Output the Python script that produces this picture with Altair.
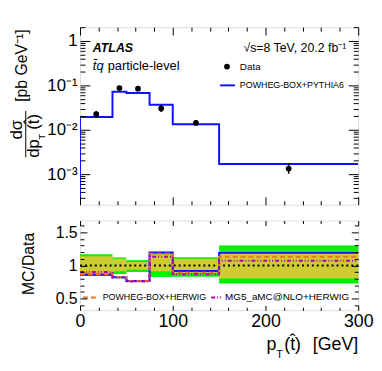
import altair as alt
import pandas as pd

FONT = "Liberation Sans"

# ---------------- data ----------------
bin_edges = [0, 35, 50, 75, 100, 150, 300]
bin_centres = [17.5, 42.5, 62.5, 87.5, 125, 225]
data_val = [0.0224, 0.087, 0.0845, 0.0303, 0.0143, 0.00134]
data_lo = [0.0185, 0.078, 0.078, 0.0252, 0.0126, 0.00102]
data_hi = [0.0265, 0.097, 0.092, 0.0360, 0.0163, 0.00178]
mc_pythia6 = [0.0195, 0.072, 0.0676, 0.0365, 0.0134, 0.0017]

ratio_pythia6 = [0.86, 0.82, 0.765, 1.195, 0.915, 1.19]
ratio_herwig = [0.865, 0.82, 0.765, 1.175, 0.89, 1.13]
ratio_mg5 = [0.90, 0.815, 0.755, 1.13, 0.865, 1.07]
total_lo = [0.84, 0.87, 0.90, 0.825, 0.83, 0.725]
total_hi = [1.17, 1.12, 1.08, 1.20, 1.125, 1.30]
stat_lo = [0.88, 0.91, 0.935, 0.91, 0.885, 0.80]
stat_hi = [1.14, 1.10, 1.05, 1.17, 1.10, 1.20]

x_major = [0, 100, 200, 300]
x_minor = [v for v in range(20, 300, 20) if v % 100]
top_y_dom = [2.05e-4, 2.05]
top_y_major = [1e-3, 1e-2, 1e-1, 1]
top_y_minor = [k * 10.0 ** e for e in range(-4, 1) for k in range(2, 10)
               if top_y_dom[0] <= k * 10.0 ** e <= top_y_dom[1]]
bot_y_dom = [0.32, 1.68]
bot_y_major = [0.5, 1, 1.5]
bot_y_minor = [round(0.4 + 0.1 * i, 2) for i in range(13)]
bot_y_minor = [v for v in bot_y_minor if v not in bot_y_major]

BLUE = "#1010ff"
ORANGE = "#e07a2a"
MAGENTA = "#b400b4"
GREEN = "#00f000"
YELLOW = "#cdcd33"


def step_df(vals, start=None):
    xs = list(bin_edges)
    ys = list(vals) + [vals[-1]]
    if start is not None:
        xs = [0] + xs
        ys = [start] + ys
    return pd.DataFrame({"x": xs, "y": ys, "i": list(range(len(xs)))})


one = pd.DataFrame({"a": [0]})
xs = alt.Scale(domain=[0, 300], nice=False, zero=False)
ys_top = alt.Scale(type="log", domain=top_y_dom, nice=False)
ys_bot = alt.Scale(domain=bot_y_dom, nice=False, zero=False)


def ax(orient, values, size, labels=False, **kw):
    return alt.Axis(orient=orient, values=values, tickSize=size, offset=-size,
                    domain=False, grid=False, labels=labels, ticks=True, minExtent=0,
                    tickColor="black", tickWidth=1, title=None, zindex=1, **kw)


def axis_layer(df, ysc, ch, orient, values, size):
    xa = ax(orient, values, size) if ch == "x" else None
    ya = ax(orient, values, size) if ch == "y" else None
    return alt.Chart(df).mark_point(opacity=0, size=0).encode(
        x=alt.X("x:Q", scale=xs, axis=xa),
        y=alt.Y("y:Q", scale=ysc, axis=ya))


def txt(text, x, y, size, align="left", baseline="middle", angle=0, **kw):
    return alt.Chart(one).mark_text(align=align, baseline=baseline, fontSize=size,
                                    angle=angle, font=FONT, color="black", **kw).encode(
        x=alt.value(x), y=alt.value(y), text=alt.value(text))


# ---------------- top panel ----------------
mc_df = step_df(mc_pythia6, start=top_y_dom[0])
pts_df = pd.DataFrame({"x": bin_centres, "y": data_val, "lo": data_lo, "hi": data_hi})

mc_line = alt.Chart(mc_df).mark_line(interpolate="step-after", color=BLUE, strokeWidth=2,
                                     clip=True).encode(
    x=alt.X("x:Q", scale=xs, axis=ax("bottom", x_major, 8)),
    y=alt.Y("y:Q", scale=ys_top, axis=ax(
        "left", top_y_major, 10, labels=True, labelFont=FONT, labelFontSize=17,
        labelPadding=3, labelColor="black",
        labelExpr="datum.value >= 0.5 ? '1' : datum.value >= 0.05 ? '10⁻¹' : "
                  "datum.value >= 0.005 ? '10⁻²' : '10⁻³'")),
    order="i:Q")

err = alt.Chart(pts_df).mark_rule(color="black", strokeWidth=1.5).encode(
    x=alt.X("x:Q", scale=xs, axis=None),
    y=alt.Y("lo:Q", scale=ys_top, axis=None), y2="hi:Q")
pts = alt.Chart(pts_df).mark_circle(color="black", opacity=1, size=34).encode(
    x=alt.X("x:Q", scale=xs, axis=None),
    y=alt.Y("y:Q", scale=ys_top, axis=None))

top_layers = [
    mc_line, err, pts,
    axis_layer(pts_df, ys_top, "y", "left", top_y_minor, 5),
    axis_layer(pts_df, ys_top, "y", "right", top_y_major, 10),
    axis_layer(pts_df, ys_top, "y", "right", top_y_minor, 5),
    axis_layer(pts_df, ys_top, "x", "bottom", x_minor, 4),
    axis_layer(pts_df, ys_top, "x", "top", x_major, 8),
    axis_layer(pts_df, ys_top, "x", "top", x_minor, 4),
    # annotations
    txt("ATLAS", 13, 21, 12.5, fontWeight="bold", fontStyle="italic"),
    txt("t\u0304q", 13, 39, 13, fontStyle="italic"),
    txt("particle-level", 28, 39, 13),
    txt("√s=8 TeV, 20.2 fb⁻¹", 270, 21, 12.5, align="right"),
    # legend
    alt.Chart(one).mark_circle(color="black", opacity=1, size=34).encode(
        x=alt.value(149), y=alt.value(40)),
    txt("Data", 162, 40, 10),
    alt.Chart(one).mark_rule(color=BLUE, strokeWidth=2).encode(
        x=alt.value(142), x2=alt.value(157), y=alt.value(59)),
    txt("POWHEG-BOX+PYTHIA6", 162, 59, 9),
    # y title
    txt("[pb GeV⁻¹]", -59, 39, 16, align="center", angle=270),
    txt("dσ", -63.5, 104, 17, align="center", angle=270),
    alt.Chart(one).mark_rule(color="black", strokeWidth=1).encode(
        x=alt.value(-55), y=alt.value(85), y2=alt.value(132)),
    txt("dp", -47, 123, 17, align="center", angle=270),
    txt("T", -39, 111, 10, align="center", angle=270),
    txt("(t\u0302)", -47, 96, 17, align="center", angle=270),
]
top = alt.layer(*top_layers).resolve_axis(x="independent", y="independent").properties(
    width=282, height=180)

# ---------------- bottom panel ----------------
band_df = pd.DataFrame({"x0": bin_edges[:-1], "x1": bin_edges[1:],
                        "tlo": total_lo, "thi": total_hi, "slo": stat_lo, "shi": stat_hi})

green = alt.Chart(band_df).mark_rect(color=GREEN, opacity=1).encode(
    x=alt.X("x0:Q", scale=xs, axis=ax("bottom", x_major, 5, labels=True, labelFont=FONT,
                                       labelFontSize=18, labelPadding=2, labelColor="black",
                                       labelFlush=False)),
    x2="x1:Q",
    y=alt.Y("tlo:Q", scale=ys_bot, axis=ax("left", bot_y_major, 7, labels=True, labelFont=FONT,
                                            labelFontSize=16, labelPadding=3, labelColor="black",
                                            format="~g")),
    y2="thi:Q")
yellow = alt.Chart(band_df).mark_rect(color=YELLOW, opacity=1).encode(
    x=alt.X("x0:Q", scale=xs, axis=None), x2="x1:Q",
    y=alt.Y("slo:Q", scale=ys_bot, axis=None), y2="shi:Q")
unity = alt.Chart(pd.DataFrame({"x": [0], "x2": [300], "y": [1]})).mark_rule(
    color="black", strokeWidth=2, strokeDash=[2, 3]).encode(
    x=alt.X("x:Q", scale=xs, axis=None), x2="x2:Q",
    y=alt.Y("y:Q", scale=ys_bot, axis=None))


def ratio_line(vals, color, dash=None):
    kw = {"strokeDash": dash} if dash else {}
    return alt.Chart(step_df(vals)).mark_line(interpolate="step-after", color=color,
                                              strokeWidth=2, **kw).encode(
        x=alt.X("x:Q", scale=xs, axis=None),
        y=alt.Y("y:Q", scale=ys_bot, axis=None), order="i:Q")


bdf = pd.DataFrame({"x": bin_centres, "y": ratio_pythia6})
bot_layers = [
    green, yellow, unity,
    ratio_line(ratio_pythia6, BLUE),
    ratio_line(ratio_herwig, ORANGE, [5, 3]),
    ratio_line(ratio_mg5, MAGENTA, [4, 2, 1, 2, 1, 2]),
    axis_layer(bdf, ys_bot, "y", "left", bot_y_minor, 4),
    axis_layer(bdf, ys_bot, "y", "right", bot_y_major, 7),
    axis_layer(bdf, ys_bot, "y", "right", bot_y_minor, 4),
    axis_layer(bdf, ys_bot, "x", "bottom", x_minor, 3),
    axis_layer(bdf, ys_bot, "x", "top", x_major, 5),
    axis_layer(bdf, ys_bot, "x", "top", x_minor, 3),
    # legend
    alt.Chart(one).mark_rule(color=ORANGE, strokeWidth=2, strokeDash=[5, 3]).encode(
        x=alt.value(3), x2=alt.value(19), y=alt.value(78)),
    txt("POWHEG-BOX+HERWIG", 23, 78, 9),
    alt.Chart(one).mark_rule(color=MAGENTA, strokeWidth=2, strokeDash=[4, 2, 1, 2, 1, 2]).encode(
        x=alt.value(133), x2=alt.value(145), y=alt.value(78)),
    txt("MG5_aMC@NLO+HERWIG", 147, 78, 10),
    # titles
    txt("MC/Data", -51.5, 44, 16, align="center", angle=270),
    txt("p", 189, 131, 18, baseline="alphabetic"),
    txt("T", 199, 139, 11, baseline="alphabetic"),
    txt("(t\u0302)", 207, 131, 18, baseline="alphabetic"),
    txt("[GeV]", 282, 131, 18, align="right", baseline="alphabetic"),
]
bottom = alt.layer(*bot_layers).resolve_axis(x="independent", y="independent").properties(
    width=282, height=91)

chart = alt.vconcat(top, bottom, spacing=14).properties(
    padding={"left": 0, "top": 16, "right": 0, "bottom": 0}
).configure_view(stroke="black", strokeWidth=1.5).configure(font=FONT)

chart.save("out.html", embed_options={"renderer": "svg", "actions": False})
